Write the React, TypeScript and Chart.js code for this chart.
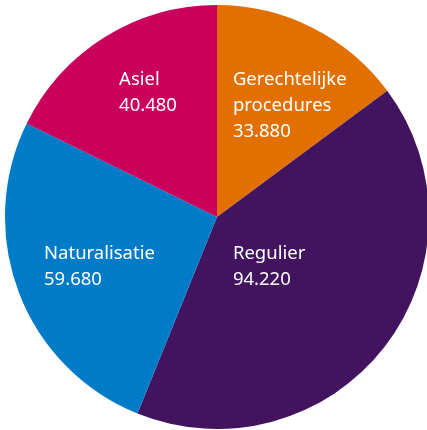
import React, { useEffect, useRef } from "react";
import { Chart, registerables } from "chart.js";

Chart.register(...registerables);

const categories: (string | string[])[] = [["Gerechtelijke", "procedures"], "Regulier", "Naturalisatie", "Asiel"];
const values = [33880, 94220, 59680, 40480];
const colors = ["#E17000", "#42145F", "#007BC7", "#CA005D"];

const fmt = (v: number) => String(v).replace(/\B(?=(\d{3})+(?!\d))/g, ".");

const labelPlugin = {
  id: "sliceLabels",
  afterDatasetsDraw(chart: any, _args: any, opts: any) {
    const meta = chart.getDatasetMeta(0);
    const ctx = chart.ctx;
    ctx.save();
    ctx.fillStyle = "#ffffff";
    ctx.font = `${opts.size}px ${opts.family}`;
    ctx.textAlign = "left";
    ctx.textBaseline = "alphabetic";
    meta.data.forEach((arc: any, i: number) => {
      const a = opts.anchors[i];
      const x = arc.x + a[0] * arc.outerRadius;
      const y = arc.y + a[1] * arc.outerRadius;
      const lab = chart.data.labels[i];
      const lines = (Array.isArray(lab) ? lab : [lab]).concat([fmt(chart.data.datasets[0].data[i])]);
      lines.forEach((t: string, k: number) => ctx.fillText(t, x, y + k * opts.lineHeight));
    });
    ctx.restore();
  },
};

export default function App() {
  const ref = useRef<HTMLCanvasElement>(null);
  useEffect(() => {
    document.body.style.margin = "0";
    document.body.style.overflow = "hidden";
    const chart = new Chart(ref.current!, {
      type: "pie",
      data: {
        labels: categories,
        datasets: [{ data: values, backgroundColor: colors, borderWidth: 0 }],
      },
      options: {
        responsive: false,
        animation: false,
        layout: { padding: 5 },
        plugins: {
          legend: { display: false },
          tooltip: { enabled: false },
          sliceLabels: {
            size: 18.5,
            family: "'Noto Sans', sans-serif",
            lineHeight: 26,
            anchors: [
              [0.075, -0.623],
              [0.075, 0.198],
              [-0.816, 0.198],
              [-0.462, -0.623],
            ],
          },
        } as any,
      },
      plugins: [labelPlugin],
    });
    return () => chart.destroy();
  }, []);
  return (
    <div style={{ position: "fixed", left: 0, top: 0, width: 427, height: 430, overflow: "hidden", background: "#fff" }}>
      <canvas ref={ref} width={434} height={434} style={{ display: "block" }} />
    </div>
  );
}
